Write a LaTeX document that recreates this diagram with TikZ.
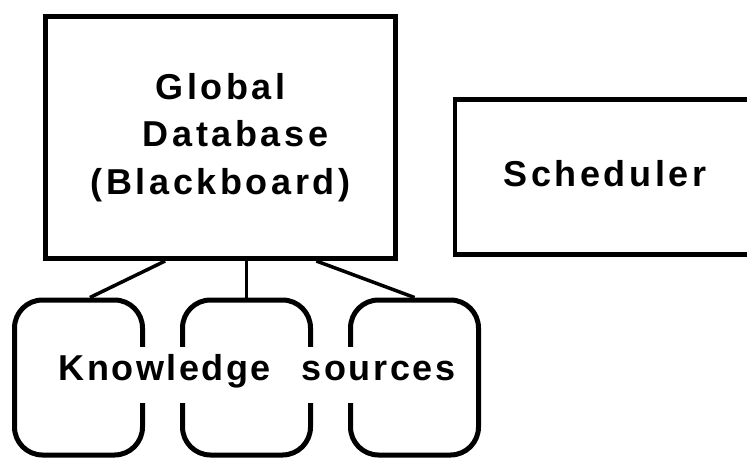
\documentclass[tikz,border=0pt]{standalone}
\usepackage{fontspec}
\newfontfamily\diagfont[LetterSpace=10]{Liberation Sans}
\newfontfamily\ksfont[LetterSpace=7]{Liberation Sans}
\usetikzlibrary{positioning,calc}

\begin{document}
\begin{tikzpicture}[x=1pt,y=-1pt,line width=3.5pt,node distance=168pt,font=\diagfont\bfseries\fontsize{36}{47.5}\selectfont]
  \tikzstyle{board}=[draw,rectangle,line width=5pt,minimum width=350pt,minimum height=242pt,align=center]
  \tikzstyle{sched}=[draw,rectangle,line width=4.5pt,minimum width=300pt,minimum height=155pt,text depth=7pt]
  \tikzstyle{ks}=[draw,rectangle,rounded corners=28pt,line width=5pt,minimum width=128pt,minimum height=155pt]

  \useasboundingbox (0,0) rectangle (747,459);
  \clip (0,0) rectangle (747,459);

  \node[board] 						(gdb) at (220.5,137.5) {Global\\\hspace*{30pt}Database\\(Blackboard)};
  \node[sched]      			   	(sch) at (605,177) {Scheduler};
  \node[ks]         				(ks1) at (78.5,377.5) {};
  \node[ks]			    		(ks2) [right of=ks1] {};
  \node[ks]			    		(ks3) [right of=ks2] {};

  \draw ($(gdb.south west)!0.344!(gdb.south east)$) -- ($(ks1.north west)!0.586!(ks1.north east)$);
  \draw (ks2.north) -- (ks2.north |- gdb.south);
  \draw ($(gdb.south west)!0.77!(gdb.south east)$) -- (ks3.north);

  % label across the three boxes, blanks out the sides it crosses
  \node[fill=white,text height=33pt,text depth=23pt,inner sep=0pt,anchor=base west,font=\ksfont\bfseries\fontsize{36}{47.5}\selectfont] (kslabel) at (57,380) {Knowledge\hspace{31pt}sources};
\end{tikzpicture}
\end{document}
